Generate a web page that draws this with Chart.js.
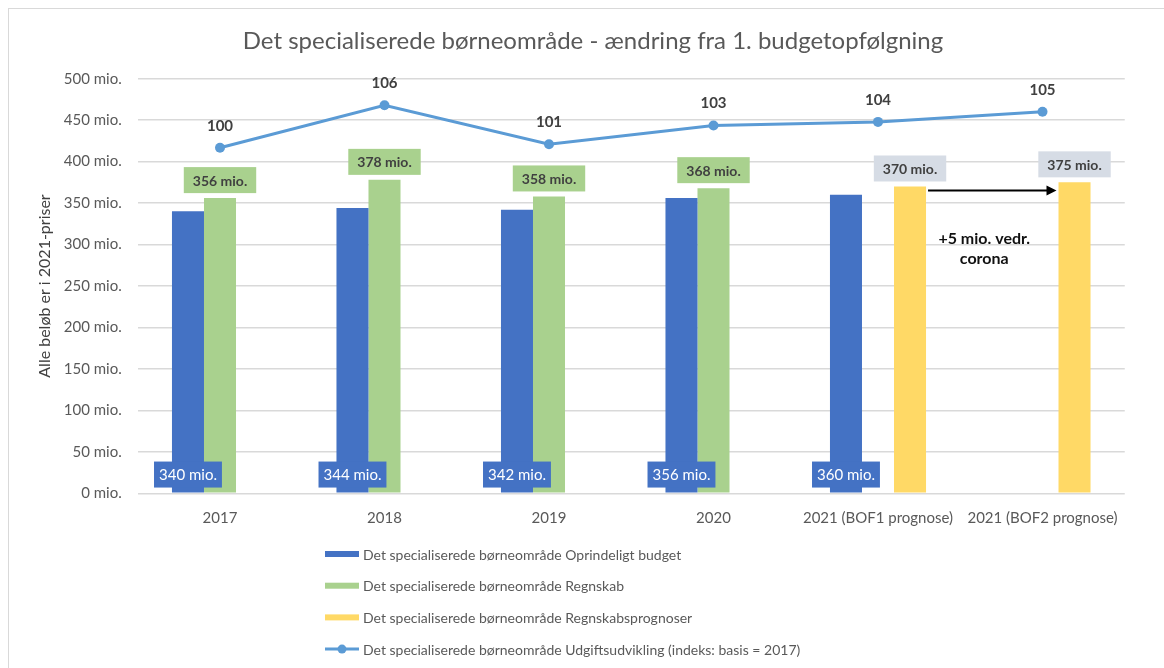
<!DOCTYPE html>
<html>
<head>
<meta charset="utf-8">
<script src="https://cdn.jsdelivr.net/npm/chart.js@4.4.1/dist/chart.umd.min.js"></script>
<style>
  html, body { margin: 0; padding: 0; background: #ffffff; }
  #wrap { position: relative; width: 1164px; height: 668px; }
  #frame { position: absolute; left: 8px; top: 8px; width: 1200px; height: 700px; border: 1px solid #d9d9d9; box-sizing: border-box; pointer-events: none; }
</style>
</head>
<body>
<div id="wrap">
  <canvas id="c" width="1164" height="668"></canvas>
  <div id="frame"></div>
</div>
<script>
const chartTitle = "Det specialiserede børneområde - ændring fra 1. budgetopfølgning";
const yAxisTitle = "Alle beløb er i 2021-priser";
const categories = ["2017", "2018", "2019", "2020", "2021 (BOF1 prognose)", "2021 (BOF2 prognose)"];
const budgetValues = [340, 344, 342, 356, 360, null];
const regnskabValues = [356, 378, 358, 368, null, null];
const prognoseValues = [null, null, null, null, 370, 375];
const indexValues = [100, 105.9, 100.5, 103.1, 103.6, 105.0];
const indexLabels = ["100", "106", "101", "103", "104", "105"];
const seriesNames = [
  "Det specialiserede børneområde Oprindeligt budget",
  "Det specialiserede børneområde Regnskab",
  "Det specialiserede børneområde Regnskabsprognoser",
  "Det specialiserede børneområde Udgiftsudvikling (indeks: basis = 2017)"
];
const yTicks = [0, 50, 100, 150, 200, 250, 300, 350, 400, 450, 500];
const annotationLines = ["+5 mio. vedr.", "corona"];

const COL_BLUE = "#4472C4", COL_GREEN = "#A9D18E", COL_YELLOW = "#FFD966", COL_LINE = "#5B9BD5";
const FONT = "Lato, 'Open Sans', sans-serif";

function fmtMio(v) { return v + " mio."; }

const labelPlugin = {
  id: "customLabels",
  afterDatasetsDraw(chart) {
    const ctx = chart.ctx;
    ctx.save();
    ctx.textAlign = "center";
    ctx.textBaseline = "middle";
    // Budget labels: inside base, blue box with white text
    const m0 = chart.getDatasetMeta(0);
    m0.data.forEach((el, i) => {
      const v = budgetValues[i];
      if (v == null) return;
      ctx.font = "15px " + FONT;
      const t = fmtMio(v);
      const w = ctx.measureText(t).width + 10;
      const h = 26;
      const bx = el.x - w / 2, by = el.base - 5 - h;
      ctx.fillStyle = COL_BLUE;
      ctx.fillRect(bx, by, w, h);
      ctx.fillStyle = "#ffffff";
      ctx.fillText(t, el.x, by + h / 2 + 1);
    });
    // Labels above bars in coloured boxes
    const drawTop = (meta, vals, fill) => {
      meta.data.forEach((el, i) => {
        const v = vals[i];
        if (v == null) return;
        ctx.font = "bold 14px " + FONT;
        const t = fmtMio(v);
        const w = ctx.measureText(t).width + 18;
        const h = 26;
        const bx = el.x - w / 2, by = el.y - 5 - h;
        ctx.fillStyle = fill;
        ctx.fillRect(bx, by, w, h);
        ctx.fillStyle = "#404040";
        ctx.fillText(t, el.x, by + h / 2 + 1);
      });
    };
    drawTop(chart.getDatasetMeta(1), regnskabValues, COL_GREEN);
    drawTop(chart.getDatasetMeta(2), prognoseValues, "#D6DCE5");
    // Index labels
    const m3 = chart.getDatasetMeta(3);
    ctx.font = "bold 15px " + FONT;
    ctx.fillStyle = "#404040";
    m3.data.forEach((el, i) => {
      ctx.fillText(indexLabels[i], el.x, el.y - 22);
    });
    // Arrow from BOF1 prognose bar to BOF2 prognose bar
    const m2 = chart.getDatasetMeta(2);
    const a = m2.data[4], b = m2.data[5];
    if (a && b) {
      const x1 = a.x + a.width / 2 + 2, x2 = b.x - b.width / 2 - 2;
      const y = a.y + 4;
      ctx.strokeStyle = "#000000";
      ctx.lineWidth = 2;
      ctx.beginPath(); ctx.moveTo(x1, y); ctx.lineTo(x2 - 8, y); ctx.stroke();
      ctx.fillStyle = "#000000";
      ctx.beginPath(); ctx.moveTo(x2, y); ctx.lineTo(x2 - 10, y - 5); ctx.lineTo(x2 - 10, y + 5); ctx.closePath(); ctx.fill();
      const cx = (x1 + x2) / 2 - 8;
      ctx.font = "bold 16px " + FONT;
      ctx.fillStyle = "#111111";
      ctx.fillText(annotationLines[0], cx, y + 48);
      ctx.fillText(annotationLines[1], cx, y + 68);
    }
    ctx.restore();
  },
  afterDraw(chart) {
    const ctx = chart.ctx;
    ctx.save();
    // Title
    ctx.font = "24px " + FONT;
    ctx.fillStyle = "#595959";
    ctx.textAlign = "center";
    ctx.textBaseline = "middle";
    ctx.fillText(chartTitle, 593, 41);
    // Legend
    const lx = 325, ly0 = 554, dy = 31.7;
    ctx.font = "14px " + FONT;
    ctx.textAlign = "left";
    const cols = [COL_BLUE, COL_GREEN, COL_YELLOW];
    for (let i = 0; i < 4; i++) {
      const y = ly0 + i * dy;
      if (i < 3) {
        ctx.fillStyle = cols[i];
        ctx.fillRect(lx, y - 3, 34, 6);
      } else {
        ctx.strokeStyle = COL_LINE;
        ctx.lineWidth = 3;
        ctx.beginPath(); ctx.moveTo(lx, y); ctx.lineTo(lx + 34, y); ctx.stroke();
        ctx.fillStyle = COL_LINE;
        ctx.beginPath(); ctx.arc(lx + 17, y, 4.5, 0, Math.PI * 2); ctx.fill();
      }
      ctx.fillStyle = "#595959";
      ctx.fillText(seriesNames[i], lx + 38, y + 1);
    }
    ctx.restore();
  }
};

new Chart(document.getElementById("c"), {
  data: {
    labels: categories,
    datasets: [
      { type: "bar", label: seriesNames[0], data: budgetValues, backgroundColor: COL_BLUE, yAxisID: "y", order: 2 },
      { type: "bar", label: seriesNames[1], data: regnskabValues, backgroundColor: COL_GREEN, yAxisID: "y", order: 2 },
      { type: "bar", label: seriesNames[2], data: prognoseValues, backgroundColor: COL_YELLOW, yAxisID: "y", order: 2 },
      { type: "line", label: seriesNames[3], data: indexValues, borderColor: COL_LINE, backgroundColor: COL_LINE,
        borderWidth: 3, pointRadius: 5, pointBackgroundColor: COL_LINE, pointBorderWidth: 0, tension: 0, yAxisID: "y2", order: 1 }
    ]
  },
  options: {
    responsive: false,
    animation: false,
    events: [],
    datasets: { bar: { categoryPercentage: 0.584, barPercentage: 1.0 } },
    layout: { padding: { left: 0, right: 39.25, top: 78.7, bottom: 124.7 } },
    plugins: { legend: { display: false }, title: { display: false }, tooltip: { enabled: false } },
    scales: {
      x: {
        grid: { display: false },
        border: { display: false },
        ticks: { color: "#595959", font: { family: FONT, size: 15 }, padding: 8, maxRotation: 0, autoSkip: false },
        afterFit(s) { s.height = 50; }
      },
      y: {
        min: 0, max: 500,
        afterBuildTicks(s) { s.ticks = yTicks.map(v => ({ value: v })); },
        grid: { color: "#d9d9d9", lineWidth: 1.5, drawTicks: false },
        border: { display: false },
        ticks: { color: "#595959", font: { family: FONT, size: 15 }, padding: 16, callback: v => fmtMio(v) },
        title: { display: true, text: yAxisTitle, color: "#404040", font: { family: FONT, size: 16 }, padding: { top: 35, bottom: 0 } },
        afterFit(s) { s.width = 137.75; }
      },
      y2: {
        display: false, min: 52, max: 109.6
      }
    }
  },
  plugins: [labelPlugin]
});
</script>
</body>
</html>
